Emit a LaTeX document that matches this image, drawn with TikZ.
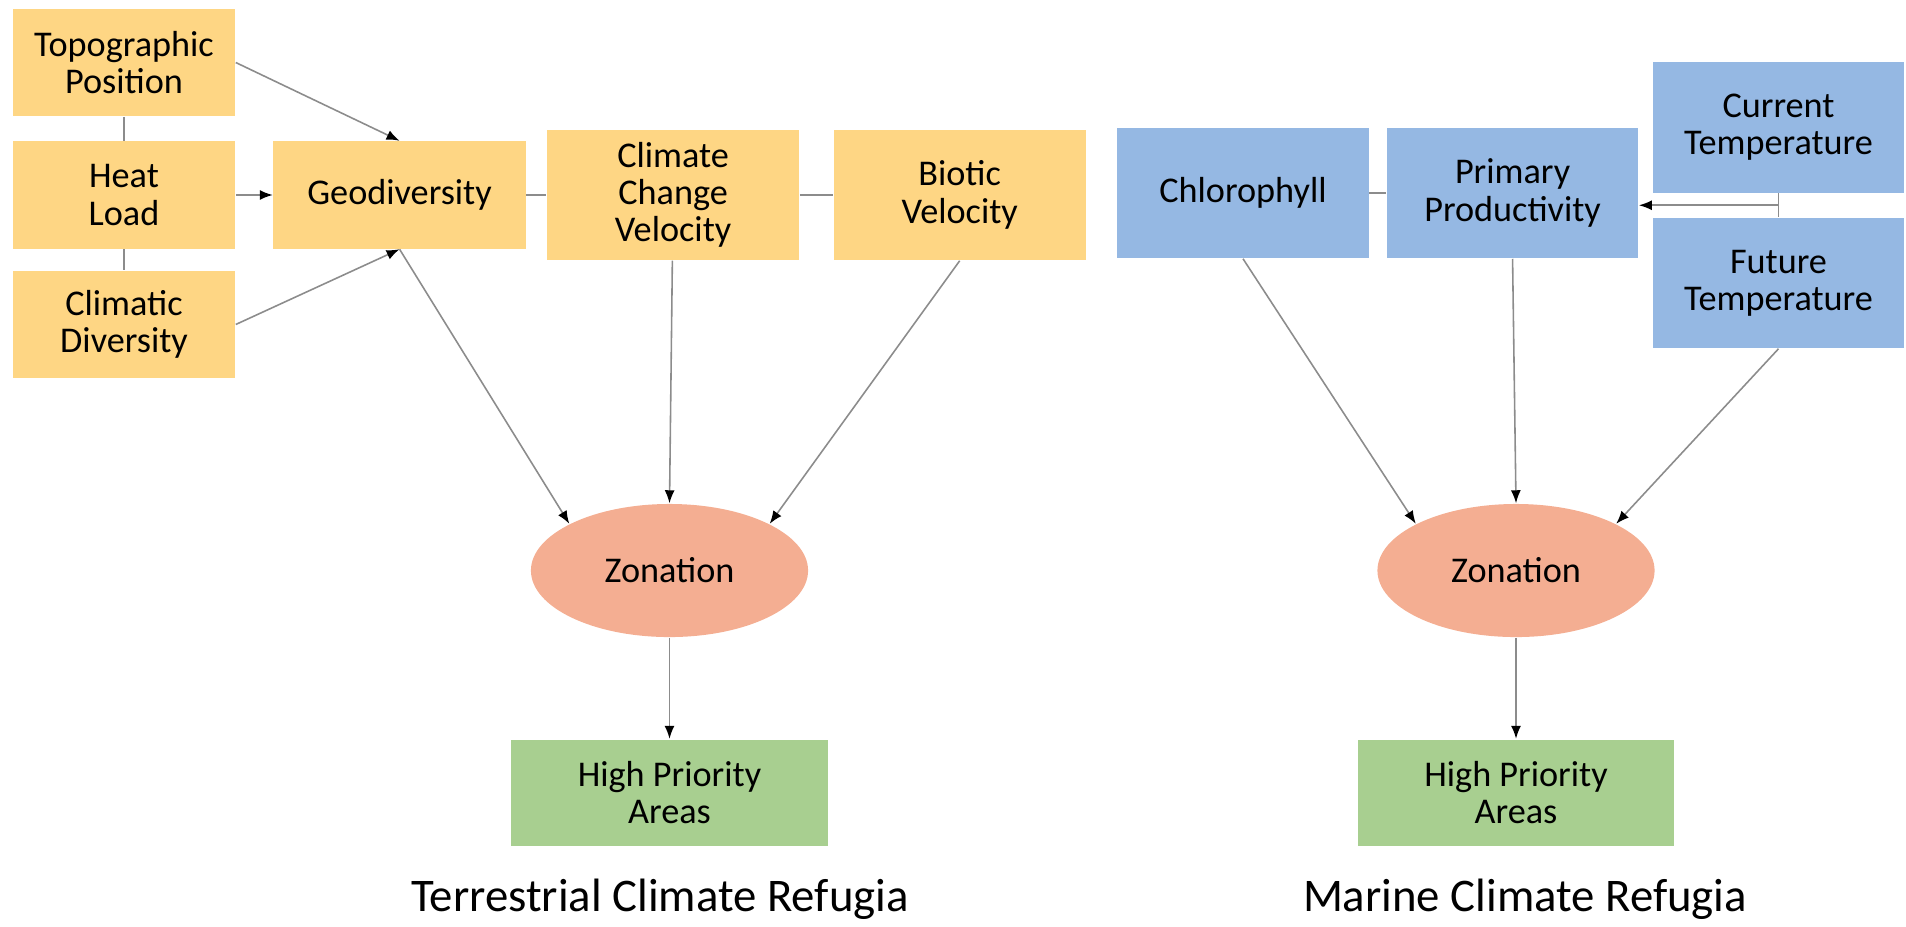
\documentclass[tikz,border=0pt]{standalone}
\usepackage{fontspec}
\setmainfont{Carlito}
\usepackage{tikz}
\usetikzlibrary{shapes.geometric,arrows.meta,positioning,calc}
\definecolor{landyellow}{RGB}{254,214,132}
\definecolor{seablue}{RGB}{149,184,227}
\definecolor{zonesalmon}{RGB}{244,174,146}
\definecolor{priogreen}{RGB}{168,207,144}
\definecolor{linkgray}{RGB}{140,140,140}
\newcommand{\cellfont}{\fontsize{10.3}{10.6}\selectfont}
\newcommand{\ttlfont}{\fontsize{13.3}{16}\selectfont}

\begin{document}
\begin{tikzpicture}[x=0.01cm,y=-0.01cm,
  land/.style={rectangle,fill=landyellow,align=center,font=\cellfont,inner sep=0pt,
               minimum width=2.52cm,minimum height=1.07cm},
  sea/.style={rectangle,fill=seablue,align=center,font=\cellfont,inner sep=0pt,
              minimum width=2.51cm,minimum height=1.3cm},
  zone/.style={ellipse,fill=zonesalmon,font=\cellfont,inner sep=0pt,
               minimum width=2.77cm,minimum height=1.33cm},
  prio/.style={rectangle,fill=priogreen,align=center,font=\cellfont,inner sep=0pt,
               minimum width=3.16cm,minimum height=1.06cm},
  lnk/.style={draw=linkgray,line width=0.45pt},
  arr/.style={lnk,-{Latex[length=1.3mm,width=1mm,color=black]}},
  ttl/.style={font=\ttlfont,anchor=base}
]
\useasboundingbox (0,0) rectangle (1906,926);

% Terrestrial
\node[land,minimum width=2.22cm] (topo) at (124,62.5) {Topographic\\Position};
\node[land,minimum width=2.22cm,below=0.24cm of topo] (heat) {Heat\\Load};
\node[land,minimum width=2.22cm,below=0.21cm of heat] (clim) {Climatic\\Diversity};
\node[land,right=0.37cm of heat] (geo) {Geodiversity};
\node[land,minimum height=1.3cm,right=0.2cm of geo] (ccv) {Climate\\Change\\Velocity};
\node[land,minimum height=1.3cm,right=0.33cm of ccv] (bio) {Biotic\\Velocity};
\node[zone] (zonL) at (669.5,570.5) {Zonation};
\node[prio,below=1.01cm of zonL] (hpaL) {High Priority\\Areas};

\draw[lnk] (topo) -- (heat); \draw[lnk] (heat) -- (clim);
\draw[lnk] (geo) -- (ccv); \draw[lnk] (ccv) -- (bio);
\draw[arr] (topo.east) -- (geo.north);
\draw[arr] (heat) -- (geo);
\draw[arr] (clim.east) -- (geo.south);
\draw[arr] (geo.south) -- (zonL.155);
\draw[arr] (ccv) -- (zonL.north);
\draw[arr] (bio.south) -- (zonL.25);
\draw[arr] (zonL) -- (hpaL);

% Marine
\node[sea] (chl) at (1243,193) {Chlorophyll};
\node[sea,right=0.17cm of chl] (prim) {Primary\\Productivity};
\node[sea] (cur) at (1778.5,127.5) {Current\\Temperature};
\node[sea,below=0.24cm of cur] (fut) {Future\\Temperature};
\node[zone] (zonR) at (1516,570.5) {Zonation};
\node[prio,below=1.01cm of zonR] (hpaR) {High Priority\\Areas};

\draw[lnk] (chl) -- (prim);
\draw[lnk] (cur) -- (fut);
\coordinate (tmp) at ($(cur.south)!0.5!(fut.north)$);
\draw[arr] (tmp) -- (tmp -| prim.east);
\draw[arr] (chl.south) -- (zonR.155);
\draw[arr] (prim.south) -- (zonR.north);
\draw[arr] (fut.south) -- (zonR.25);
\draw[arr] (zonR) -- (hpaR);

% Titles
\node[ttl] (ttlL) at (660,911) {Terrestrial Climate Refugia};
\node[ttl] (ttlR) at (1525,911) {Marine Climate Refugia};
\end{tikzpicture}
\end{document}
